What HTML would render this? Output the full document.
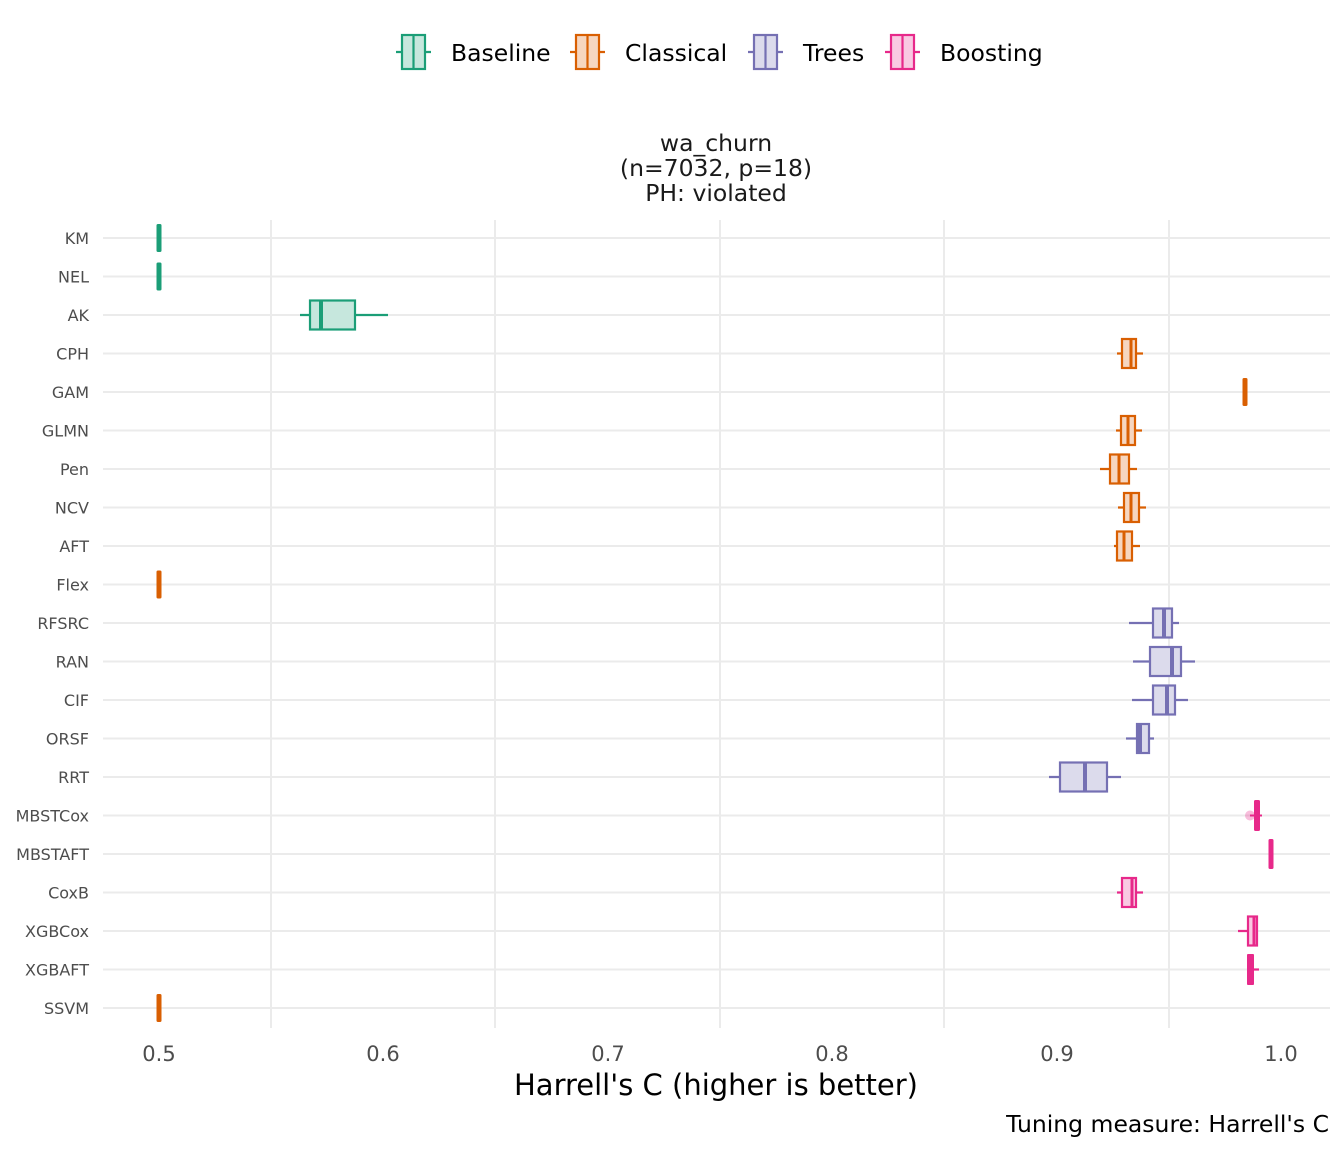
<!DOCTYPE html>
<html><head><meta charset="utf-8"><style>
html,body{margin:0;padding:0;background:#fff}
svg{display:block}
text{font-family:"DejaVu Sans","Liberation Sans",sans-serif}
</style></head><body>
<svg width="1344" height="1152" viewBox="0 0 1344 1152" xmlns="http://www.w3.org/2000/svg">
<rect width="1344" height="1152" fill="#fff"/>
<!-- legend -->
<g stroke-width="2.2">
<line x1="396" y1="52" x2="431" y2="52" stroke="#1b9e77"/><rect x="402" y="35" width="23" height="34" fill="#c6e7dd" stroke="#1b9e77"/><line x1="413.5" y1="35" x2="413.5" y2="69" stroke="#1b9e77"/>
<line x1="570" y1="52" x2="605" y2="52" stroke="#d95f02"/><rect x="576" y="35" width="23" height="34" fill="#f6d6c0" stroke="#d95f02"/><line x1="587.5" y1="35" x2="587.5" y2="69" stroke="#d95f02"/>
<line x1="748" y1="52" x2="783" y2="52" stroke="#7570b3"/><rect x="754" y="35" width="23" height="34" fill="#dcdbec" stroke="#7570b3"/><line x1="765.5" y1="35" x2="765.5" y2="69" stroke="#7570b3"/>
<line x1="885" y1="52" x2="920" y2="52" stroke="#e7298a"/><rect x="891" y="35" width="23" height="34" fill="#f9c9e2" stroke="#e7298a"/><line x1="902.5" y1="35" x2="902.5" y2="69" stroke="#e7298a"/>
</g>
<g font-size="23.5" fill="#000">
<text x="451" y="61">Baseline</text><text x="625" y="61">Classical</text><text x="803" y="61">Trees</text><text x="940" y="61">Boosting</text>
</g>
<!-- facet title -->
<g font-size="23.5" fill="#1a1a1a" text-anchor="middle">
<text x="716" y="151">wa_churn</text><text x="716" y="176">(n=7032, p=18)</text><text x="716" y="201">PH: violated</text>
</g>
<!-- grid -->
<g stroke="#ebebeb" stroke-width="2">
<line x1="271" y1="220" x2="271" y2="1028"/><line x1="495" y1="220" x2="495" y2="1028"/><line x1="720" y1="220" x2="720" y2="1028"/><line x1="944" y1="220" x2="944" y2="1028"/><line x1="1169" y1="220" x2="1169" y2="1028"/>
<line x1="103" y1="238" x2="1330" y2="238"/><line x1="103" y1="276.5" x2="1330" y2="276.5"/><line x1="103" y1="315" x2="1330" y2="315"/><line x1="103" y1="353.5" x2="1330" y2="353.5"/><line x1="103" y1="392" x2="1330" y2="392"/><line x1="103" y1="430.5" x2="1330" y2="430.5"/><line x1="103" y1="469" x2="1330" y2="469"/><line x1="103" y1="507.5" x2="1330" y2="507.5"/><line x1="103" y1="546" x2="1330" y2="546"/><line x1="103" y1="584.5" x2="1330" y2="584.5"/><line x1="103" y1="623" x2="1330" y2="623"/><line x1="103" y1="661.5" x2="1330" y2="661.5"/><line x1="103" y1="700" x2="1330" y2="700"/><line x1="103" y1="738.5" x2="1330" y2="738.5"/><line x1="103" y1="777" x2="1330" y2="777"/><line x1="103" y1="815.5" x2="1330" y2="815.5"/><line x1="103" y1="854" x2="1330" y2="854"/><line x1="103" y1="892.5" x2="1330" y2="892.5"/><line x1="103" y1="931" x2="1330" y2="931"/><line x1="103" y1="969.5" x2="1330" y2="969.5"/><line x1="103" y1="1008" x2="1330" y2="1008"/>
</g>
<!-- y labels -->
<g font-size="16" fill="#4d4d4d" text-anchor="end">
<text x="89" y="244">KM</text><text x="89" y="282.5">NEL</text><text x="89" y="321">AK</text><text x="89" y="359.5">CPH</text><text x="89" y="398">GAM</text><text x="89" y="436.5">GLMN</text><text x="89" y="475">Pen</text><text x="89" y="513.5">NCV</text><text x="89" y="552">AFT</text><text x="89" y="590.5">Flex</text><text x="89" y="629">RFSRC</text><text x="89" y="667.5">RAN</text><text x="89" y="706">CIF</text><text x="89" y="744.5">ORSF</text><text x="89" y="783">RRT</text><text x="89" y="821.5">MBSTCox</text><text x="89" y="860">MBSTAFT</text><text x="89" y="898.5">CoxB</text><text x="89" y="937">XGBCox</text><text x="89" y="975.5">XGBAFT</text><text x="89" y="1014">SSVM</text>
</g>
<!-- bars (degenerate boxes) -->
<g>
<rect x="156.5" y="224" width="5" height="28" rx="1.5" fill="#1b9e77"/>
<rect x="156.5" y="262.5" width="5" height="28" rx="1.5" fill="#1b9e77"/>
<rect x="1242.5" y="378" width="5" height="28" rx="1.5" fill="#d95f02"/>
<rect x="156.5" y="570.5" width="5" height="28" rx="1.5" fill="#d95f02"/>
<rect x="156.5" y="994" width="5" height="28" rx="1.5" fill="#d95f02"/>
<circle cx="1250" cy="815.5" r="5" fill="#e7298a" opacity="0.3"/>
<rect x="1254" y="800" width="6" height="31" rx="1.5" fill="#e7298a"/>
<line x1="1250" y1="815.5" x2="1262" y2="815.5" stroke="#e7298a" stroke-width="2"/>
<rect x="1268.5" y="839" width="5" height="30" rx="1.5" fill="#e7298a"/>
<rect x="1247" y="954" width="7" height="31" rx="1" fill="#e7298a"/>
<line x1="1247" y1="969.5" x2="1259" y2="969.5" stroke="#e7298a" stroke-width="2.2"/>
</g>
<!-- boxes -->
<g stroke-width="2.2">
<g stroke="#1b9e77"><line x1="300" y1="315" x2="388" y2="315"/><rect x="310" y="300.5" width="45" height="29" fill="#c6e7dd"/><line x1="321" y1="300.5" x2="321" y2="329.5" stroke-width="4"/></g>
<g stroke="#d95f02" fill="#f6d6c0">
<line x1="1117" y1="353.5" x2="1143" y2="353.5"/><rect x="1122" y="339" width="14" height="29"/><line x1="1131" y1="339" x2="1131" y2="368" stroke-width="3"/>
<line x1="1116" y1="430.5" x2="1142" y2="430.5"/><rect x="1121" y="416" width="14" height="29"/><line x1="1128" y1="416" x2="1128" y2="445" stroke-width="3"/>
<line x1="1100" y1="469" x2="1137" y2="469"/><rect x="1110" y="454.5" width="19" height="29"/><line x1="1119" y1="454.5" x2="1119" y2="483.5" stroke-width="3"/>
<line x1="1118" y1="507.5" x2="1146" y2="507.5"/><rect x="1124" y="493" width="15" height="29"/><line x1="1131" y1="493" x2="1131" y2="522" stroke-width="3"/>
<line x1="1114" y1="546" x2="1140" y2="546"/><rect x="1117" y="531.5" width="15" height="29"/><line x1="1124" y1="531.5" x2="1124" y2="560.5" stroke-width="3"/>
</g>
<g stroke="#7570b3" fill="#dcdbec">
<line x1="1129" y1="623" x2="1179" y2="623"/><rect x="1153" y="608.5" width="19" height="29"/><line x1="1164" y1="608.5" x2="1164" y2="637.5" stroke-width="4"/>
<line x1="1133" y1="661.5" x2="1195" y2="661.5"/><rect x="1150" y="647" width="31" height="29"/><line x1="1172" y1="647" x2="1172" y2="676" stroke-width="4"/>
<line x1="1132" y1="700" x2="1188" y2="700"/><rect x="1153" y="685.5" width="22" height="29"/><line x1="1167" y1="685.5" x2="1167" y2="714.5" stroke-width="4"/>
<line x1="1126" y1="738.5" x2="1154" y2="738.5"/><rect x="1137" y="724" width="12" height="29"/><line x1="1140" y1="724" x2="1140" y2="753" stroke-width="4"/>
<line x1="1049" y1="777" x2="1121" y2="777"/><rect x="1060" y="762.5" width="47" height="29"/><line x1="1085" y1="762.5" x2="1085" y2="791.5" stroke-width="4"/>
</g>
<g stroke="#e7298a" fill="#f9c9e2">
<line x1="1117" y1="892.5" x2="1143" y2="892.5"/><rect x="1122" y="878" width="14" height="29"/><line x1="1132" y1="878" x2="1132" y2="907" stroke-width="3"/>
<line x1="1238" y1="931" x2="1257" y2="931"/><rect x="1248" y="916.5" width="9" height="29"/><line x1="1254" y1="916.5" x2="1254" y2="945.5" stroke-width="3"/>
</g>
</g>
<!-- x labels -->
<g font-size="21" fill="#4d4d4d" text-anchor="middle">
<text x="159" y="1061">0.5</text><text x="383" y="1061">0.6</text><text x="608" y="1061">0.7</text><text x="832" y="1061">0.8</text><text x="1057" y="1061">0.9</text><text x="1281" y="1061">1.0</text>
</g>
<text x="716" y="1095" font-size="29" text-anchor="middle" fill="#000">Harrell's C (higher is better)</text>
<text x="1329" y="1132" font-size="23.5" text-anchor="end" fill="#000">Tuning measure: Harrell's C</text>
</svg>
</body></html>
